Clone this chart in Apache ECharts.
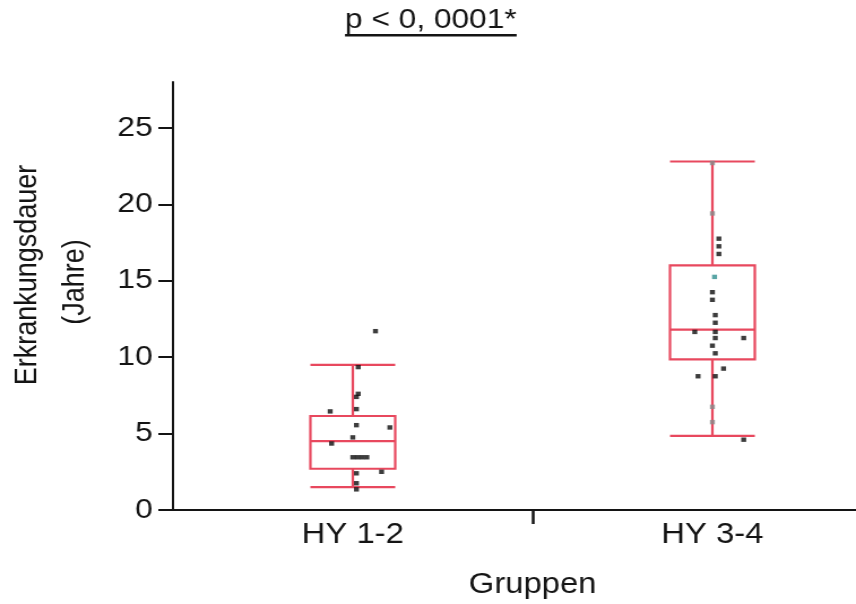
<!DOCTYPE html>
<html>
<head>
<meta charset="utf-8">
<script src="https://cdn.jsdelivr.net/npm/echarts@6/dist/echarts.min.js"></script>
<style>
  html, body { margin: 0; padding: 0; background: #fff; overflow: hidden; }
  /* the plot is laid out on a narrower canvas and widened horizontally */
  #chart { width: 757px; height: 604px; transform: scaleX(1.1308); transform-origin: 0 0; }
</style>
</head>
<body>
<div id="chart"></div>
<script>
const categories = ['HY 1-2', 'HY 3-4'];
const yTicks = [0, 5, 10, 15, 20, 25];
// divider between the two groups on the jitter scale (groups sit at 0 and 1)
const groupDivider = [0.5];

// five-number summaries per group: [min, Q1, median, Q3, max]
const boxHY12 = [1.5, 2.7, 4.5, 6.15, 9.5];
const boxHY34 = [4.85, 9.85, 11.8, 16.0, 22.8];

// individual patients: [horizontal jitter within the group, disease duration in years]
const pointsHY12 = [
  [0.063, 11.7], [0.015, 9.35], [0.015, 7.6], [0.01, 7.4], [-0.063, 6.45],
  [0.01, 6.6], [0.01, 5.55], [0.103, 5.4], [0, 4.75], [-0.059, 4.35],
  [0, 3.45], [0.013, 3.45], [0.026, 3.45], [0.039, 3.45], [0.01, 2.4],
  [0.08, 2.5], [0.01, 1.75], [0.01, 1.35]
];
const pointsHY34 = [
  [0.018, 17.75], [0.018, 17.25], [0.018, 16.75], [0, 14.25], [0, 13.75],
  [0.008, 12.75], [0.008, 12.25], [-0.049, 11.65], [0.008, 11.65], [0.087, 11.25],
  [0.008, 11.25], [0, 10.75], [0.008, 10.25], [0.031, 9.25], [-0.04, 8.75],
  [0.008, 8.75], [0.087, 4.6]
];
const pointsHY34Faint = [[0, 22.7], [0, 19.4], [0, 6.75], [0, 5.75]];
const pointsHY34Marked = [[0.006, 15.25]];

const FONT = '"Liberation Sans", Arial, Helvetica, sans-serif';
const INK = '#141414';
const BOX = '#e8485e';
const titleText = 'p < 0, 0001*';

function place(points, groupIndex) {
  return points.map(p => [groupIndex + p[0], p[1]]);
}

function textWidth(text, font) {
  const ctx = document.createElement('canvas').getContext('2d');
  ctx.font = font;
  return ctx.measureText(text).width;
}

const titleX = 381;
const titleW = textWidth(titleText, '28px ' + FONT);

const chart = echarts.init(document.getElementById('chart'));
chart.setOption({
  animation: false,
  backgroundColor: '#fff',
  textStyle: { fontFamily: FONT },
  // plot area runs past the right edge of the canvas
  grid: { left: 153, width: 636, top: 82, bottom: 94, containLabel: false, outerBoundsMode: 'none' },
  graphic: [
    {
      type: 'text', x: titleX, y: 20,
      style: { text: titleText, font: '28px ' + FONT, fill: INK, textAlign: 'center', textVerticalAlign: 'middle' }
    },
    {
      type: 'line',
      shape: { x1: titleX - titleW / 2, y1: 35.3, x2: titleX + titleW / 2, y2: 35.3 },
      style: { stroke: INK, lineWidth: 2.5 }
    },
    {
      type: 'text', x: 25, y: 275, rotation: Math.PI / 2,
      style: { text: 'Erkrankungsdauer', font: '27px ' + FONT, fill: INK, textAlign: 'center', textVerticalAlign: 'middle' }
    },
    {
      type: 'text', x: 67, y: 282, rotation: Math.PI / 2,
      style: { text: '(Jahre)', font: '27px ' + FONT, fill: INK, textAlign: 'center', textVerticalAlign: 'middle' }
    }
  ],
  xAxis: [
    {
      type: 'category',
      data: categories,
      position: 'bottom',
      axisLine: { lineStyle: { color: INK, width: 2 } },
      axisTick: { show: false },
      axisLabel: { fontSize: 29, color: INK, margin: 10 },
      name: 'Gruppen',
      nameLocation: 'middle',
      nameGap: 60,
      nameTextStyle: { fontSize: 29, color: INK }
    },
    {
      // numeric twin of the category axis: carries the jittered points and the group divider tick
      type: 'value',
      min: -0.5, max: 1.5,
      position: 'bottom',
      axisLine: { show: false },
      axisTick: { show: true, length: 14, customValues: groupDivider, lineStyle: { color: INK, width: 2.5 } },
      axisLabel: { show: false },
      splitLine: { show: false }
    }
  ],
  yAxis: {
    type: 'value',
    min: 0, max: 28, interval: 5,
    axisLine: { show: true, onZero: false, lineStyle: { color: INK, width: 2 } },
    axisTick: { show: true, length: 13, customValues: yTicks, lineStyle: { color: INK, width: 2 } },
    axisLabel: { customValues: yTicks, fontSize: 28, color: INK, margin: 18 },
    splitLine: { show: false }
  },
  series: [
    {
      type: 'boxplot',
      xAxisIndex: 0,
      data: [boxHY12, boxHY34],
      boxWidth: [75, 75],
      itemStyle: { color: 'rgba(255,255,255,0)', borderColor: BOX, borderWidth: 2.2 },
      silent: true
    },
    {
      type: 'scatter', xAxisIndex: 1, symbol: 'rect', symbolSize: [4.4, 4.4],
      data: place(pointsHY12, 0), itemStyle: { color: '#0c0c0c' }, z: 5
    },
    {
      type: 'scatter', xAxisIndex: 1, symbol: 'rect', symbolSize: [4.4, 4.4],
      data: place(pointsHY34, 1), itemStyle: { color: '#0c0c0c' }, z: 5
    },
    {
      type: 'scatter', xAxisIndex: 1, symbol: 'rect', symbolSize: [4.4, 4.4],
      data: place(pointsHY34Faint, 1), itemStyle: { color: '#8a8a8a' }, z: 5
    },
    {
      type: 'scatter', xAxisIndex: 1, symbol: 'rect', symbolSize: [4.4, 4.4],
      data: place(pointsHY34Marked, 1), itemStyle: { color: '#2f8f8f' }, z: 5
    }
  ]
});
</script>
</body>
</html>
